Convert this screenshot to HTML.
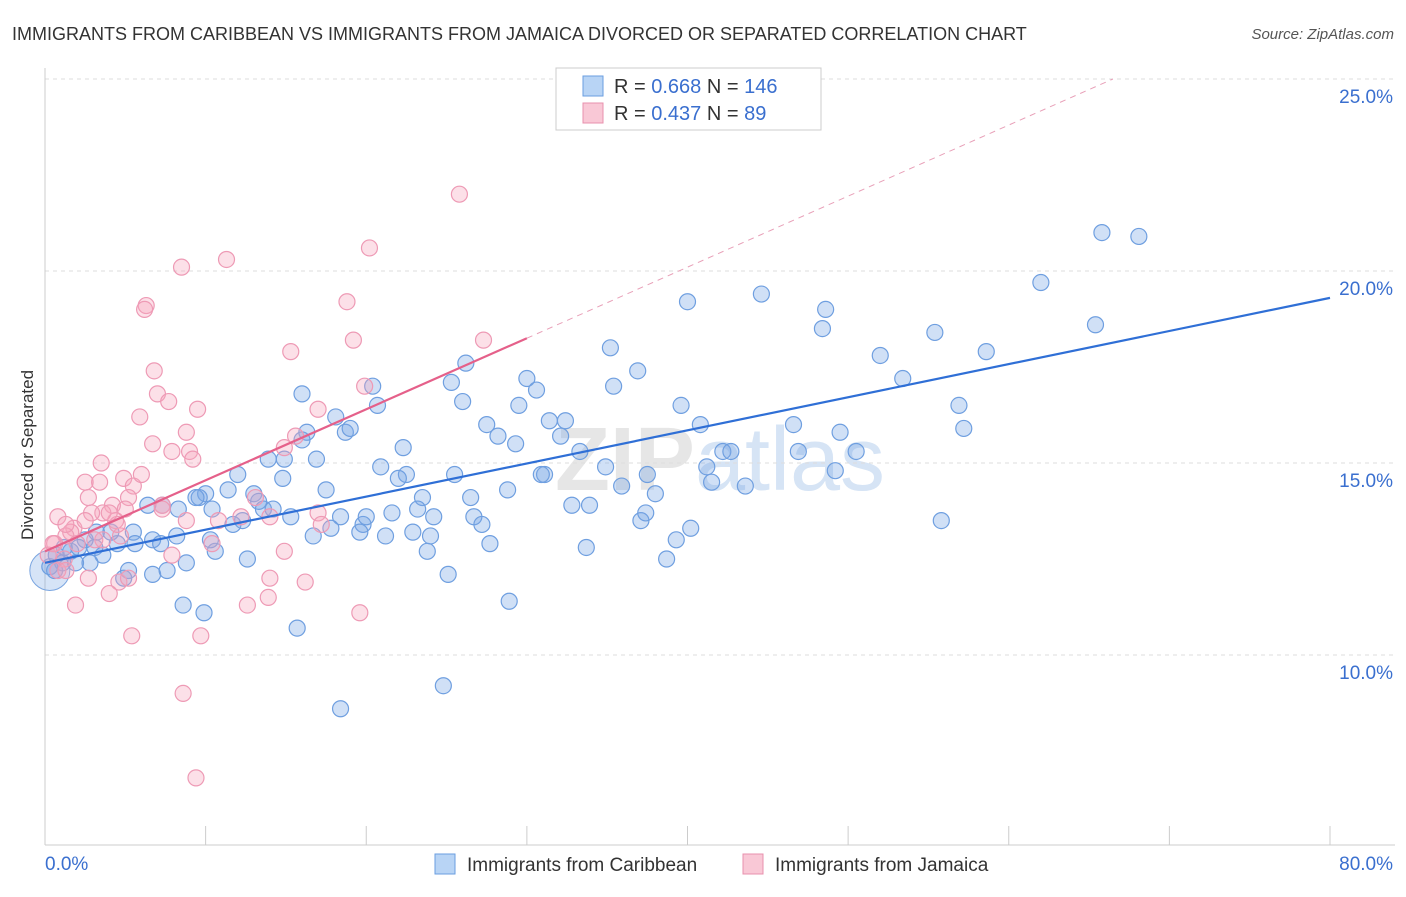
<!DOCTYPE html>
<html><head><meta charset="utf-8"><style>
body{margin:0;background:#fff;font-family:"Liberation Sans",sans-serif}
svg text{font-family:"Liberation Sans",sans-serif}
</style></head><body>
<svg width="1406" height="892" viewBox="0 0 1406 892">
<text x="12" y="40" font-size="18" fill="#333">IMMIGRANTS FROM CARIBBEAN VS IMMIGRANTS FROM JAMAICA DIVORCED OR SEPARATED CORRELATION CHART</text>
<text x="1394" y="39" font-size="15" fill="#555" font-style="italic" text-anchor="end">Source: ZipAtlas.com</text>
<text x="720" y="490" font-size="90" fill="#e6e6e6" text-anchor="middle" font-weight="bold">ZIP<tspan fill="#d6e4f5" font-weight="normal">atlas</tspan></text>
<g id="grid"></g><g id="axes"></g><g id="pts"></g><g id="lines"></g>
<text transform="translate(33,455) rotate(-90)" font-size="17" fill="#333" text-anchor="middle">Divorced or Separated</text>
<g>
<rect x="556" y="68" width="265" height="62" fill="#fff" stroke="#ccc"/>
<rect x="583" y="76" width="20" height="20" fill="#b8d4f5" stroke="#6a9ee0"/>
<rect x="583" y="103" width="20" height="20" fill="#f9c8d6" stroke="#e890ad"/>
<text x="614" y="93" font-size="20" fill="#333">R = <tspan fill="#3a6fcf">0.668</tspan>   N = <tspan fill="#3a6fcf">146</tspan></text>
<text x="614" y="120" font-size="20" fill="#333">R = <tspan fill="#3a6fcf">0.437</tspan>   N =   <tspan fill="#3a6fcf">89</tspan></text>
</g>
<g><rect x="435" y="854" width="20" height="20" fill="#b8d4f5" stroke="#6a9ee0"/><text x="467" y="871" font-size="19" fill="#333">Immigrants from Caribbean</text></g>
<g><rect x="743" y="854" width="20" height="20" fill="#f9c8d6" stroke="#e890ad"/><text x="775" y="871" font-size="19" fill="#333">Immigrants from Jamaica</text></g>
</svg>
<script>
const yTicks=[10,15,20,25];
const xTicks=[0,10,20,30,40,50,60,70,80];
const blueX=[65.8,68.1,62.0,65.4,40.0,44.6,48.6,48.4,55.4,58.6,52.0,53.4,35.2,26.2,25.3,20.4,30.0,30.6,36.9,35.4,26.0,29.5,20.7,18.1,39.6,56.9,46.6,40.8,57.2,49.5,46.9,50.5,27.5,28.2,29.3,31.4,32.4,32.1,33.3,18.7,19.0,16.0,16.3,22.3,20.9,22.5,22.0,25.5,34.9,37.5,31.1,30.9,41.2,42.2,42.7,49.2,41.5,43.6,35.9,38.0,28.8,26.5,32.8,33.9,23.5,21.6,23.2,24.2,26.7,27.2,19.8,20.0,18.4,19.6,17.8,16.7,21.2,22.9,24.0,23.8,27.7,37.1,37.4,40.2,39.3,55.8,33.7,38.7,25.1,28.9,15.7,24.8,18.4,12.0,11.4,13.0,13.3,13.6,14.2,12.3,11.7,10.4,10.0,9.6,9.4,8.3,7.3,8.2,6.7,5.5,5.6,4.5,4.1,3.2,3.1,3.6,2.8,5.2,6.7,4.9,7.6,8.8,10.6,12.6,10.3,8.6,9.9,14.9,16.0,16.9,17.5,13.9,14.8,15.3,0.7,1.1,1.6,1.9,2.5,0.3,0.6,1.2,2.1,6.4,7.2];
const blueY=[21.0,20.9,19.7,18.6,19.2,19.4,19.0,18.5,18.4,17.9,17.8,17.2,18.0,17.6,17.1,17.0,17.2,16.9,17.4,17.0,16.6,16.5,16.5,16.2,16.5,16.5,16.0,16.0,15.9,15.8,15.3,15.3,16.0,15.7,15.5,16.1,16.1,15.7,15.3,15.8,15.9,16.8,15.8,15.4,14.9,14.7,14.6,14.7,14.9,14.7,14.7,14.7,14.9,15.3,15.3,14.8,14.5,14.4,14.4,14.2,14.3,14.1,13.9,13.9,14.1,13.7,13.8,13.6,13.6,13.4,13.4,13.6,13.6,13.2,13.3,13.1,13.1,13.2,13.1,12.7,12.9,13.5,13.7,13.3,13.0,13.5,12.8,12.5,12.1,11.4,10.7,9.2,8.6,14.7,14.3,14.2,14.0,13.8,13.8,13.5,13.4,13.8,14.2,14.1,14.1,13.8,13.9,13.1,13.0,13.2,12.9,12.9,13.2,13.2,12.8,12.6,12.4,12.2,12.1,12.0,12.2,12.4,12.7,12.5,13.0,11.3,11.1,15.1,15.6,15.1,14.3,15.1,14.6,13.6,12.6,12.4,12.7,12.4,13.0,12.3,12.2,12.8,12.8,13.9,12.9];
const pinkX=[25.8,20.2,11.3,8.5,6.3,6.2,18.8,19.2,27.3,15.3,6.8,7.0,7.7,9.5,5.9,17.0,19.9,8.8,6.7,7.9,9.0,9.2,3.5,14.9,15.6,4.9,5.5,6.0,2.5,3.4,2.7,5.2,7.3,7.3,4.2,5.0,4.4,3.6,2.9,1.8,2.5,1.6,0.8,1.3,0.6,2.0,1.2,0.8,3.6,4.7,7.9,8.8,10.4,10.8,12.2,14.0,17.0,17.2,13.1,2.7,4.6,1.9,4.0,5.2,14.0,16.2,14.9,12.6,13.9,19.6,5.4,9.7,8.6,9.4,1.3,0.2,0.5,3.1,1.3,4.5,4.0];
const pinkY=[22.0,20.6,20.3,20.1,19.1,19.0,19.2,18.2,18.2,17.9,17.4,16.8,16.6,16.4,16.2,16.4,17.0,15.8,15.5,15.3,15.3,15.1,15.0,15.4,15.7,14.6,14.4,14.7,14.5,14.5,14.1,14.1,13.9,13.8,13.9,13.8,13.5,13.7,13.7,13.3,13.5,13.2,13.6,13.1,12.9,12.9,12.5,12.2,13.0,13.1,12.6,13.5,12.9,13.5,13.6,13.6,13.7,13.4,14.1,12.0,11.9,11.3,11.6,12.0,12.0,11.9,12.7,11.3,11.5,11.1,10.5,10.5,9.0,6.8,12.2,12.6,12.9,13.0,13.4,13.4,13.7];
const blueFit=[12.4,19.3]; // y at x=0 and x=80
const pinkFit=[12.7,18.25]; // y at x=0 and x=30
const NS="http://www.w3.org/2000/svg";
const X=v=>45+v*(1285/80), Y=v=>79+(25-v)*38.4;
function mk(t,a,p){const e=document.createElementNS(NS,t);for(const k in a)e.setAttribute(k,a[k]);document.getElementById(p).appendChild(e);return e;}
yTicks.forEach(t=>{const l=mk('line',{x1:45,x2:1395,y1:Y(t),y2:Y(t),stroke:'#ddd','stroke-dasharray':'4,4'},'grid');


const tx=mk('text',{x:1393,y:Y(t)+24,'font-size':19,fill:'#3a6fcf','text-anchor':'end'},'grid');tx.textContent=t.toFixed(1)+'%';

});
mk('line',{x1:45,x2:45,y1:68,y2:845,stroke:'#ccc'},'axes');
mk('line',{x1:45,x2:1395,y1:845,y2:845,stroke:'#ccc'},'axes');
xTicks.forEach((t,i)=>{const l=mk('line',{x1:X(t),x2:X(t),y1:826,y2:845,stroke:'#ccc'},'axes');

});
[[0,'start',45],[80,'end',1393]].forEach(([t,a,x])=>{const tx=mk('text',{x:x,y:870,'font-size':19,fill:'#3a6fcf','text-anchor':a},'axes');tx.textContent=t.toFixed(1)+'%';

});
const big=mk('circle',{cx:X(0.3),cy:Y(12.2),r:20,fill:'rgba(120,165,230,0.3)',stroke:'#7aa5e0'},'pts');


blueX.forEach((x,i)=>{const c=mk('circle',{cx:X(x),cy:Y(blueY[i]),r:8,fill:'rgba(120,165,230,0.35)',stroke:'#6f9fe0','stroke-width':1.2},'pts');

});
pinkX.forEach((x,i)=>{const c=mk('circle',{cx:X(x),cy:Y(pinkY[i]),r:8,fill:'rgba(245,165,190,0.35)',stroke:'#ee9ab5','stroke-width':1.2},'pts');

});
const bl=mk('line',{x1:X(0),y1:Y(blueFit[0]),x2:X(80),y2:Y(blueFit[1]),stroke:'#2f6fd6','stroke-width':2.2},'lines');


const slope=(pinkFit[1]-pinkFit[0])/30;
const xe=(25-pinkFit[0])/slope;
const pd=mk('line',{x1:X(30),y1:Y(pinkFit[1]),x2:X(xe),y2:Y(25),stroke:'#e8a0b8','stroke-width':1,'stroke-dasharray':'6,5'},'lines');


const pl=mk('line',{x1:X(0),y1:Y(pinkFit[0]),x2:X(30),y2:Y(pinkFit[1]),stroke:'#e5608a','stroke-width':2.2},'lines');


</script>
</body></html>
